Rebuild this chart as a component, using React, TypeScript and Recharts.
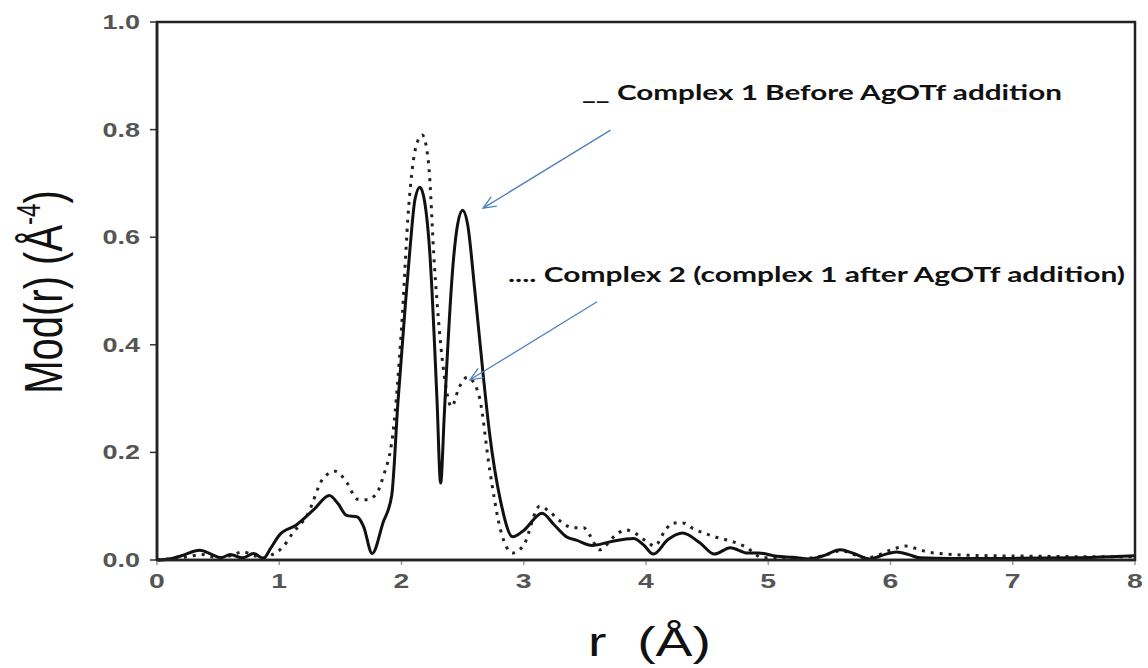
import React from 'react';
import { LineChart, Line, XAxis, YAxis, ReferenceLine } from 'recharts';

// r (Å) ticks and Mod(r) ticks
const rTicks = [0, 1, 2, 3, 4, 5, 6, 7, 8];
const modTicks = [0, 0.2, 0.4, 0.6, 0.8, 1.0];

// Complex 1 before AgOTf addition (solid)
const complex1R = [
  0, 0.1, 0.2, 0.35, 0.45, 0.52, 0.6, 0.7, 0.79, 0.87, 0.93, 1.0, 1.14, 1.28, 1.41, 1.48, 1.55, 1.64, 1.69,
  1.76, 1.85, 1.92, 1.97, 2.03, 2.07, 2.11, 2.15, 2.19, 2.23, 2.29, 2.32, 2.35, 2.37, 2.42, 2.46, 2.5, 2.54,
  2.6, 2.67, 2.72, 2.81, 2.91, 3.0, 3.15, 3.25, 3.35, 3.43, 3.56, 3.71, 3.9, 3.98, 4.06, 4.18, 4.3, 4.44,
  4.56, 4.69, 4.83, 4.92, 5.07, 5.2, 5.34, 5.45, 5.59, 5.7, 5.83, 5.95, 6.05, 6.15, 6.24, 6.5, 7.0, 7.5, 7.8, 8.0,
];
const complex1Mod = [
  0, 0.002, 0.008, 0.018, 0.01, 0.004, 0.01, 0.004, 0.012, 0.003, 0.022, 0.046, 0.065, 0.093, 0.12, 0.105,
  0.083, 0.08, 0.062, 0.012, 0.07, 0.12, 0.29, 0.47, 0.58, 0.67, 0.693, 0.665, 0.576, 0.3, 0.143, 0.27, 0.36,
  0.545, 0.625, 0.65, 0.625, 0.5, 0.34, 0.236, 0.11, 0.043, 0.055, 0.087, 0.065, 0.043, 0.037, 0.027, 0.034,
  0.04, 0.028, 0.011, 0.038, 0.05, 0.032, 0.011, 0.023, 0.013, 0.013, 0.007, 0.005, 0.002, 0.008, 0.019,
  0.012, 0.002, 0.01, 0.015, 0.01, 0.004, 0.003, 0.003, 0.004, 0.006, 0.008,
];

// Complex 2 (complex 1 after AgOTf addition) (dotted)
const complex2R = [
  0, 0.1, 0.25, 0.37, 0.5, 0.6, 0.7, 0.8, 0.88, 0.95, 1.03, 1.11, 1.23, 1.36, 1.46, 1.55, 1.64, 1.72, 1.8,
  1.85, 1.93, 2.0, 2.06, 2.12, 2.17, 2.22, 2.27, 2.34, 2.41, 2.47, 2.54, 2.59, 2.64, 2.72, 2.81, 2.91, 3.0,
  3.13, 3.21, 3.3, 3.4, 3.49, 3.54, 3.62, 3.75, 3.83, 3.91, 4.0, 4.07, 4.16, 4.22, 4.3, 4.38, 4.55, 4.71,
  4.81, 4.96, 5.1, 5.3, 5.45, 5.59, 5.8, 6.02, 6.12, 6.2, 6.3, 6.46, 6.8, 7.2, 7.6, 8.0,
];
const complex2Mod = [
  0, 0.002, 0.006, 0.01, 0.004, 0.008, 0.015, 0.008, 0.004, 0.011, 0.024, 0.05, 0.084, 0.152, 0.165, 0.145,
  0.113, 0.112, 0.125, 0.155, 0.236, 0.43, 0.66, 0.77, 0.79, 0.74, 0.545, 0.36, 0.285, 0.32, 0.34, 0.33, 0.3,
  0.17, 0.056, 0.013, 0.028, 0.1, 0.09, 0.072, 0.06, 0.06, 0.046, 0.019, 0.046, 0.056, 0.05, 0.035, 0.026,
  0.056, 0.069, 0.069, 0.059, 0.044, 0.034, 0.025, 0.004, 0.004, 0.003, 0.008, 0.017, 0.004, 0.02, 0.026,
  0.022, 0.015, 0.011, 0.008, 0.007, 0.006, 0.006,
];

// annotation arrows, in data units (r, Mod)
const arrowStarts = [
  { x: 3.71, y: 0.799 },
  { x: 3.6, y: 0.48 },
];
const arrowEnds = [
  { x: 2.667, y: 0.654 },
  { x: 2.56, y: 0.335 },
];

const complex1 = complex1R.map((r, i) => ({ r, mod: complex1Mod[i] }));
const complex2 = complex2R.map((r, i) => ({ r, mod: complex2Mod[i] }));

const SX = 1.35; // the reference is stretched horizontally
const frame = { stroke: '#222', strokeWidth: 2.5 };

const XTick = (props: any) => {
  const { x, y, payload } = props;
  return (
    <text transform={`translate(${x},${y + 23}) scale(${SX},1)`} textAnchor="middle" fontSize={21}
      fontFamily="Liberation Sans, Arial" fontWeight={700} fill="#555">
      {payload.value}
    </text>
  );
};

const YTick = (props: any) => {
  const { x, y, payload } = props;
  return (
    <text transform={`translate(${x},${y + 7}) scale(${SX},1)`} textAnchor="end" fontSize={20}
      fontFamily="Liberation Sans, Arial" fontWeight={700} fill="#555">
      {Number(payload.value).toFixed(1)}
    </text>
  );
};

const Arrow = (props: any) => {
  const { x1, y1, x2, y2 } = props;
  if ([x1, y1, x2, y2].some((v) => typeof v !== 'number')) return null;
  const a = Math.atan2(y2 - y1, x2 - x1);
  const len = 14;
  const p1 = `${x2 - len * Math.cos(a - 0.4)},${y2 - len * Math.sin(a - 0.4)}`;
  const p2 = `${x2 - len * Math.cos(a + 0.4)},${y2 - len * Math.sin(a + 0.4)}`;
  return (
    <g>
      <line x1={x1} y1={y1} x2={x2} y2={y2} stroke="#4f81bd" strokeWidth={1.3} />
      <polyline points={`${p1} ${x2},${y2} ${p2}`} fill="none" stroke="#4f81bd" strokeWidth={1.3} />
    </g>
  );
};

export default function App() {
  return (
    <div style={{ position: 'absolute', left: 0, top: 0, width: 1148, height: 668, background: '#fff' }}>
      <LineChart width={1148} height={668} margin={{ top: 22, right: 13, bottom: 0, left: 0 }}>
        <XAxis type="number" dataKey="r" domain={[0, 8]} ticks={rTicks} allowDataOverflow
          height={108} axisLine={frame} tickSize={5} tickMargin={0}
          tickLine={{ stroke: '#999', strokeWidth: 1.5 }} tick={<XTick />} />
        <YAxis type="number" domain={[0, 1]} ticks={modTicks} width={157} axisLine={frame}
          tickSize={7} tickMargin={10} tickLine={{ stroke: '#333', strokeWidth: 1.5 }} tick={<YTick />} />
        <Line data={complex2} dataKey="mod" type="monotone" stroke="#222" strokeWidth={3}
          strokeDasharray="3 6" dot={false} isAnimationActive={false} />
        <Line data={complex1} dataKey="mod" type="monotone" stroke="#111" strokeWidth={3}
          dot={false} isAnimationActive={false} />
        {arrowStarts.map((s, i) => (
          <ReferenceLine key={i} segment={[s, arrowEnds[i]]} shape={Arrow} ifOverflow="visible" />
        ))}
      </LineChart>
      <svg width={1148} height={668} style={{ position: 'absolute', left: 0, top: 0, pointerEvents: 'none' }}>
        {/* plot frame */}
        <rect x={157} y={22} width={978} height={538} fill="none" stroke="#222" strokeWidth={2.5} />
        <text transform={`translate(62,292) scale(${SX},1) rotate(-90)`} textAnchor="middle" fontSize={40}
          fontFamily="Liberation Sans, Arial" fill="#111">
          Mod(r) (Å<tspan fontSize={24} dy={-16}>-4</tspan><tspan dy={16}>)</tspan>
        </text>
        <text transform={`translate(588,656) scale(${SX},1)`} textAnchor="start" fontSize={41}
          fontFamily="Liberation Sans, Arial" fill="#111" style={{ whiteSpace: 'pre' }}>
          {'r  (Å)'}
        </text>
        <text x={582} y={100} fontSize={21} fontFamily="Lato" fontWeight={700} fill="#111"
          textLength={480} lengthAdjust="spacingAndGlyphs" style={{ whiteSpace: 'pre' }}>
          {'__ Complex 1 Before AgOTf addition'}
        </text>
        <text x={508} y={282} fontSize={21} fontFamily="Lato" fontWeight={700} fill="#111"
          textLength={617} lengthAdjust="spacingAndGlyphs" style={{ whiteSpace: 'pre' }}>
          {'.... Complex 2 (complex 1 after AgOTf addition)'}
        </text>
      </svg>
    </div>
  );
}
